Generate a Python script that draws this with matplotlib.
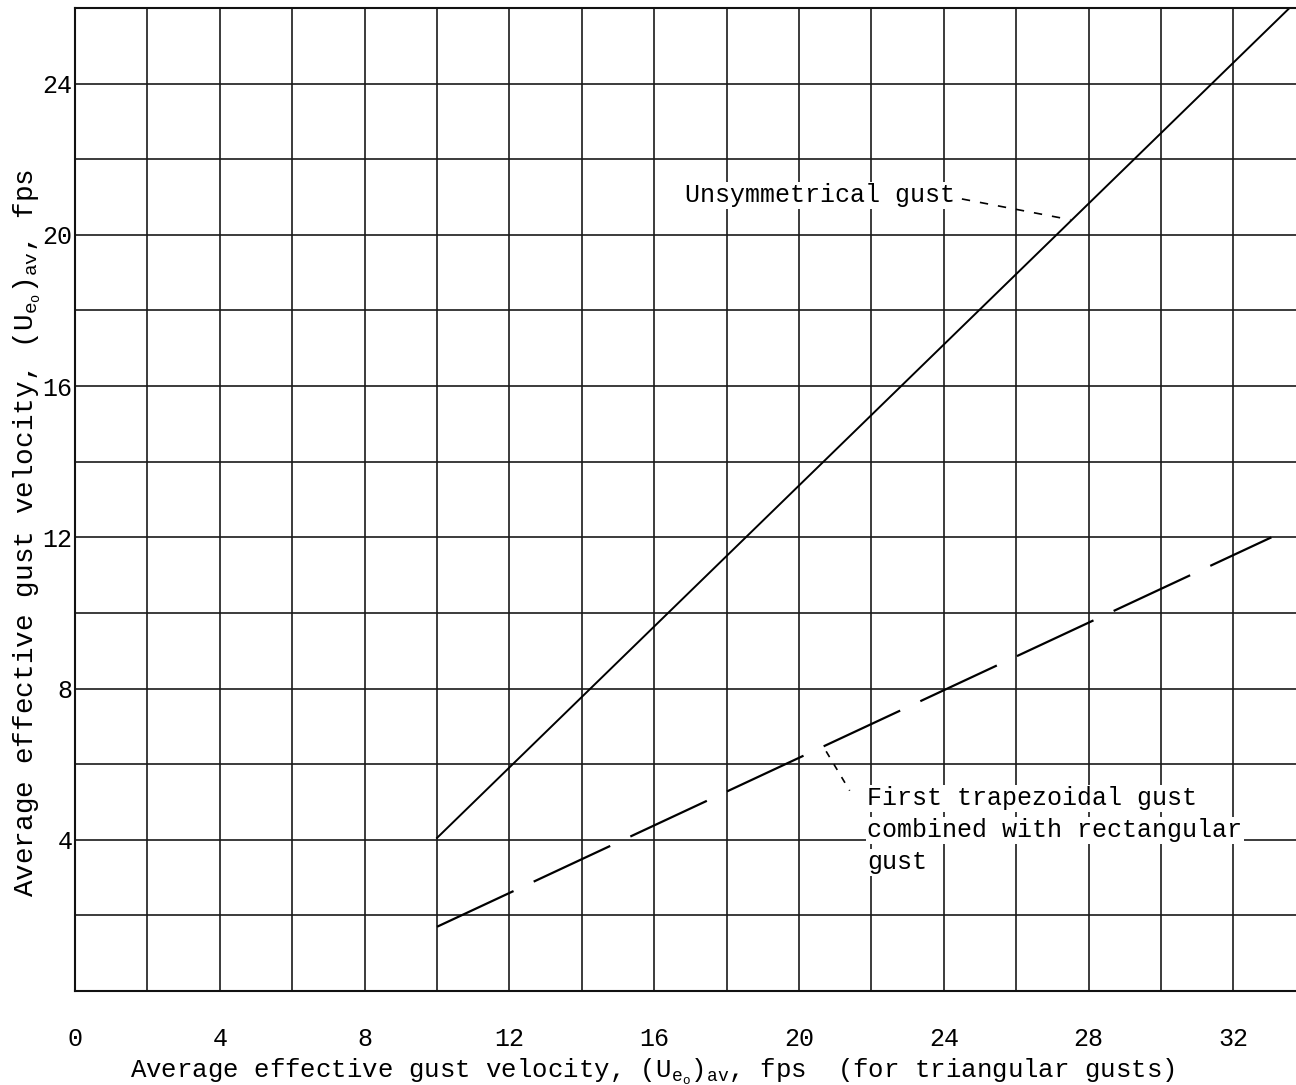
import numpy as np
import matplotlib
matplotlib.use("Agg")
import matplotlib.pyplot as plt
from matplotlib.ticker import MultipleLocator

# values
unsym_x = [10.0, 33.55]
unsym_y = [4.05, 26.0]
trap_x = [10.0, 33.05]
trap_y = [1.7, 12.0]

x_ticks = [0, 4, 8, 12, 16, 20, 24, 28, 32]
y_ticks = [4, 8, 12, 16, 20, 24]

trap_note = ["First trapezoidal gust", "combined with rectangular", "gust"]

plt.rcParams['font.family'] = ['Liberation Mono', 'DejaVu Sans']
plt.rcParams['mathtext.fontset'] = 'custom'
plt.rcParams['mathtext.rm'] = 'Liberation Mono'
plt.rcParams['mathtext.it'] = 'Liberation Mono'

fs = 18

fig = plt.figure(figsize=(12.96, 10.85), dpi=100)
ax = fig.add_axes([0.0579, 0.0866, 0.9421, 0.906])

ax.set_xlim(0, 33.73)
ax.set_ylim(0, 26)

# grid every 2 units, labels every 4
ax.xaxis.set_minor_locator(MultipleLocator(2))
ax.yaxis.set_minor_locator(MultipleLocator(2))
ax.set_xticks(x_ticks)
ax.set_yticks(y_ticks)
ax.grid(True, which='both', color='#1a1a1a', lw=1.2)
ax.set_axisbelow(True)
ax.tick_params(which='both', length=0)
ax.tick_params(axis='x', pad=26, labelsize=fs)
ax.tick_params(axis='y', pad=2, labelsize=fs)

for s in ['left', 'top', 'bottom']:
    ax.spines[s].set_linewidth(1.5)
    ax.spines[s].set_color('#111111')
ax.spines['right'].set_visible(False)

ax.plot(unsym_x, unsym_y, color='black', lw=1.4)
ax.plot(trap_x, trap_y, color='black', lw=1.6, dashes=(38, 10))

ax.set_xlabel(r"Average effective gust velocity, $(\mathrm{U_{e_o}})_{\mathrm{av}}$, fps  (for triangular gusts)",
              fontsize=18.5)
ax.xaxis.set_label_coords(0.473, -0.067)
ax.set_ylabel(r"Average effective gust velocity, $(\mathrm{U_{e_o}})_{\mathrm{av}}$, fps",
              fontsize=20)
ax.yaxis.set_label_coords(-0.026, 0.466)

box = dict(facecolor='white', edgecolor='none', pad=1)
ax.text(16.85, 21.05, "Unsymmetrical gust", fontsize=fs, va='center', ha='left', bbox=box)
ax.plot([24.5, 27.5], [20.95, 20.4], color='black', lw=1.2, dashes=(5, 6))

# one text per line so the grid shows through between them, as in the scan
for i, line in enumerate(trap_note):
    ax.text(21.88, 5.1 - 0.85 * i, line, fontsize=fs, va='center', ha='left', bbox=box)
ax.plot([20.75, 21.4], [6.34, 5.3], color='black', lw=1.2, dashes=(4, 5))

fig.savefig("out.png", dpi=100)
